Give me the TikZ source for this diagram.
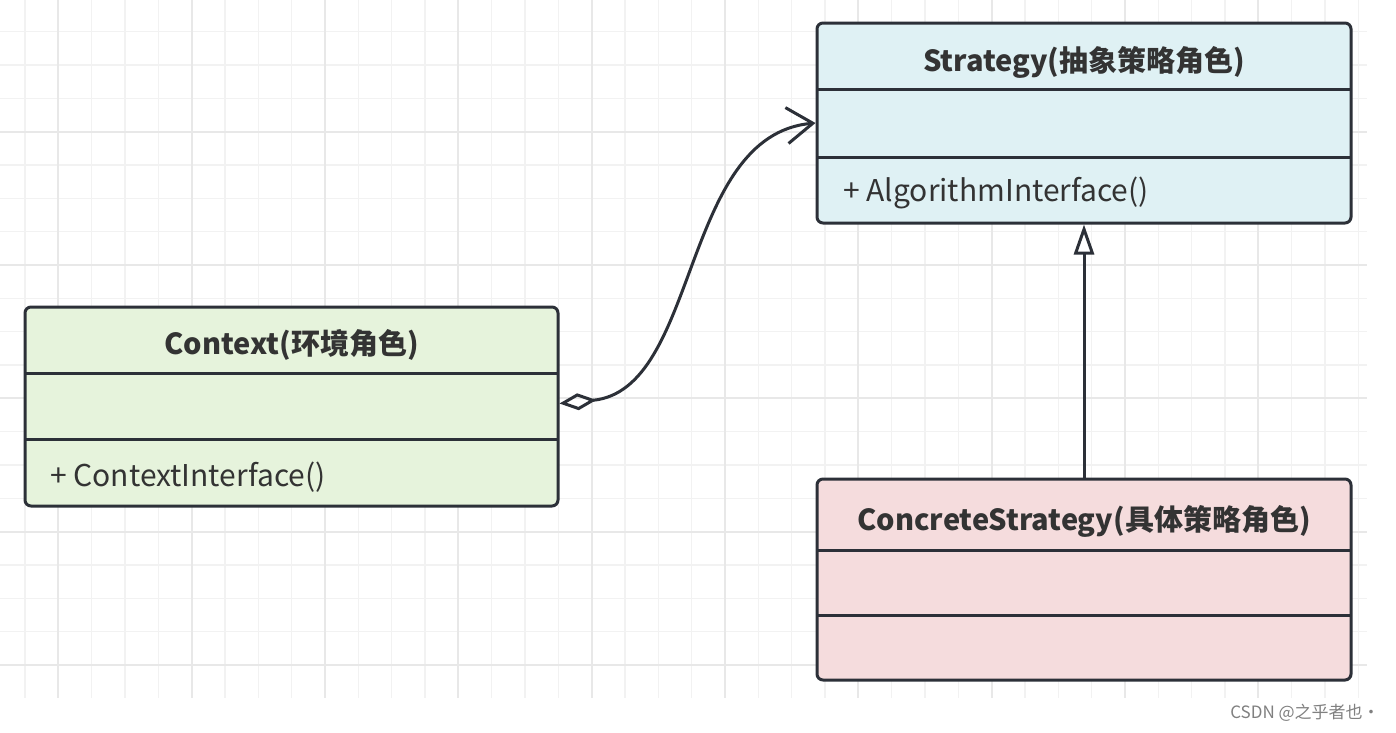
\documentclass[tikz,border=0pt]{standalone}
\usepackage{fontspec}
\setmainfont{Noto Sans CJK SC}
\usetikzlibrary{arrows.meta}
\definecolor{gridminor}{HTML}{F2F2F2}
\definecolor{gridmajor}{HTML}{E8E8E8}
\definecolor{boxline}{HTML}{2C3038}
\definecolor{txt}{HTML}{333333}
\definecolor{stratfill}{HTML}{DFF1F4}
\definecolor{ctxfill}{HTML}{E6F3DC}
\definecolor{csfill}{HTML}{F5DCDD}
\definecolor{wm}{HTML}{808080}
\tikzset{
  umlbox/.style={draw=boxline, line width=3pt, rounded corners=6pt,
    minimum width=534pt, minimum height=200pt, inner sep=0pt},
  divider/.style={draw=boxline, line width=3pt},
  titletext/.style={font=\bfseries\fontsize{29}{34}\selectfont, text=txt, inner sep=0pt, anchor=base},
  methodtext/.style={font=\fontsize{30}{36}\selectfont, text=txt, inner sep=0pt, anchor=base west},
  conn/.style={draw=boxline, line width=3pt},
  gminor/.style={draw=gridminor, line width=1.6pt},
  gmajor/.style={draw=gridmajor, line width=2pt}
}
\begin{document}
\begin{tikzpicture}[x=1pt,y=-1pt]
\useasboundingbox (0,0) rectangle (1396,732);
\fill[white] (0,0) rectangle (1396,732);
% grid
\foreach \i in {0,...,40} \draw[gminor] ({25+33.3333*\i},0) -- ++(0,697.7);
\foreach \j in {0,...,19} \draw[gminor] (0,{31.667+33.3333*\j}) -- ++(1366.7,0);
\foreach \i in {0,...,9} \draw[gmajor] ({58.333+133.3333*\i},0) -- ++(0,697.7);
\foreach \j in {0,...,4} \draw[gmajor] (0,{131.667+133.3333*\j}) -- ++(1366.7,0);

% Strategy
\node[umlbox, fill=stratfill] (strat) at (1084,123) {};
\draw[divider] (817,89) -- (1351,89);
\draw[divider] (817,157) -- (1351,157);
\node[titletext] (stratT) at (1084,71) {Strategy(抽象策略角色)};
\node[methodtext] (stratM) at (843,201) {+ AlgorithmInterface()};

% Context
\node[umlbox, fill=ctxfill, minimum width=533pt, minimum height=199pt] (ctx) at (291.5,406.5) {};
\draw[divider] (25,373) -- (558,373);
\draw[divider] (25,439) -- (558,439);
\node[titletext] (ctxT) at (291.5,354) {Context(环境角色)};
\node[methodtext] (ctxM) at (50,486) {+ ContextInterface()};

% ConcreteStrategy
\node[umlbox, fill=csfill, minimum height=201pt] (cs) at (1084,579.5) {};
\draw[divider] (817,550) -- (1351,550);
\draw[divider] (817,615) -- (1351,615);
\node[titletext] (csT) at (1084,530) {ConcreteStrategy(具体策略角色)};

% connectors
\draw[conn, {Diamond[open,length=37pt,width=17pt]}-{Straight Barb[length=26pt,width=36pt]}]
  ([yshift=3pt]ctx.east) .. controls (700,390) and (680,135) .. (strat.west);
\draw[conn, -{Triangle[open,length=30pt,width=20pt]}] (cs.north) -- (strat.south);

% watermark
\node[font=\fontsize{17}{20}\selectfont, text=wm, inner sep=0pt] (wmark) at (1305,713) {CSDN @之乎者也·};
\end{tikzpicture}
\end{document}
